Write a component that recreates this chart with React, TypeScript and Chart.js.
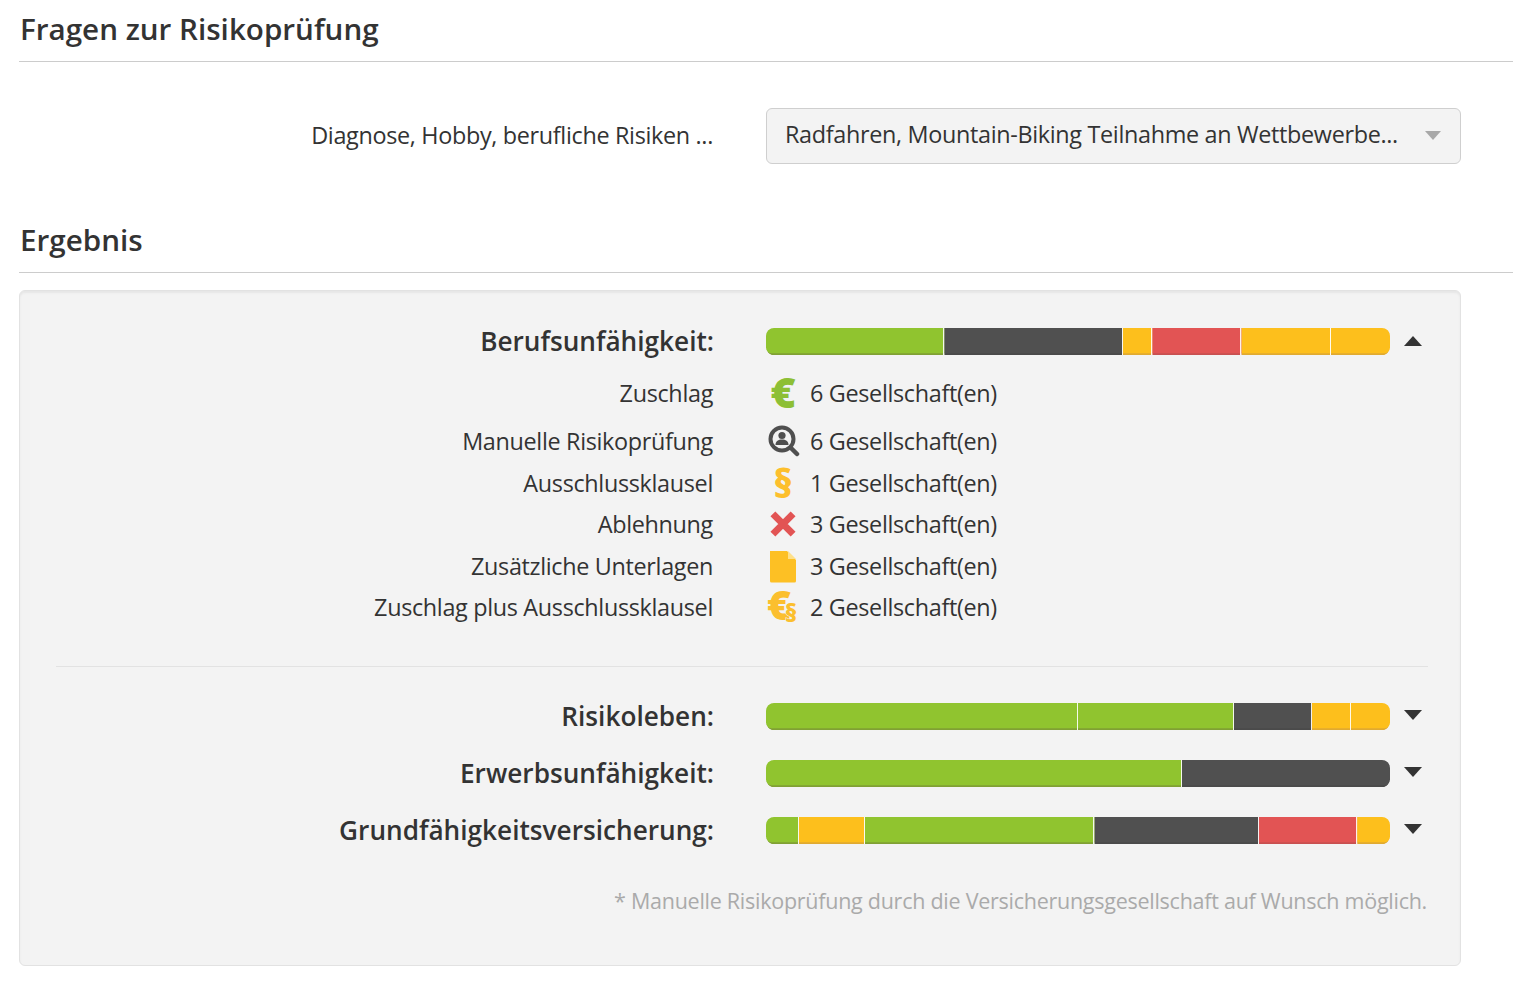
import { useEffect, useRef } from "react";
import { Chart, registerables } from "chart.js";

Chart.register(...registerables);

const GREEN = "#90c42f";
const DARK = "#505050";
const YELLOW = "#fdbf1c";
const RED = "#e25454";
const TEXT = "#333333";

const shade: Record<string, string> = {
  [GREEN]: "#80a034",
  [DARK]: "#4a4a4a",
  [YELLOW]: "#e0aa30",
  [RED]: "#c85050",
};

const berufValues = [6, 6, 1, 3, 3, 2];
const berufColors = [GREEN, DARK, YELLOW, RED, YELLOW, YELLOW];
const risikoValues = [8, 4, 2, 1, 1];
const risikoColors = [GREEN, GREEN, DARK, YELLOW, YELLOW];
const erwerbValues = [2, 1];
const erwerbColors = [GREEN, DARK];
const grundValues = [1, 2, 7, 5, 3, 1];
const grundColors = [GREEN, YELLOW, GREEN, DARK, RED, YELLOW];

const detailLabels = [
  "Zuschlag",
  "Manuelle Risikoprüfung",
  "Ausschlussklausel",
  "Ablehnung",
  "Zusätzliche Unterlagen",
  "Zuschlag plus Ausschlussklausel",
];
const detailCounts = [6, 6, 1, 3, 3, 2];
const detailY = [393, 441, 483, 524, 566, 607];

// white hairline between the segments of a bar
const separators = {
  id: "separators",
  afterDatasetsDraw(chart: Chart) {
    const { ctx, chartArea } = chart;
    const last = chart.data.datasets.length - 1;
    ctx.save();
    ctx.fillStyle = "rgba(255,255,255,0.9)";
    chart.data.datasets.forEach((_, i) => {
      if (i === last) return;
      const bar = chart.getDatasetMeta(i).data[0] as unknown as { x: number };
      ctx.fillRect(Math.round(bar.x) - 1, chartArea.top, 1, chartArea.bottom - chartArea.top);
    });
    ctx.restore();
  },
};

const StackedBar = ({ top, values, colors }: { top: number; values: number[]; colors: string[] }) => {
  const chartRef = useRef<HTMLCanvasElement>(null);

  useEffect(() => {
    if (!chartRef.current) return;
    const last = values.length - 1;
    const chart = new Chart(chartRef.current, {
      type: "bar",
      data: {
        labels: [""],
        datasets: values.map((v, i) => ({
          data: [v],
          backgroundColor: colors[i],
          borderColor: shade[colors[i]],
          borderWidth: { top: 0, left: 0, right: 0, bottom: 2 },
          borderSkipped: false,
          barPercentage: 1,
          categoryPercentage: 1,
          borderRadius: {
            topLeft: i === 0 ? 8 : 0,
            bottomLeft: i === 0 ? 8 : 0,
            topRight: i === last ? 8 : 0,
            bottomRight: i === last ? 8 : 0,
          },
        })),
      },
      options: {
        indexAxis: "y",
        animation: false,
        responsive: false,
        layout: { padding: 0 },
        plugins: { legend: { display: false }, tooltip: { enabled: false } },
        scales: {
          x: { stacked: true, display: false, min: 0, max: values.reduce((a, b) => a + b, 0) },
          y: { stacked: true, display: false },
        },
      },
      plugins: [separators],
    });
    return () => chart.destroy();
  }, [values, colors]);

  return (
    <canvas
      ref={chartRef}
      width={624}
      height={27}
      style={{ position: "absolute", left: 766, top, width: 624, height: 27 }}
    />
  );
};

const Label = ({ y, right, left, size = 23.4, weight = 400, color = TEXT, spacing = -0.33, children }: any) => (
  <div
    style={{
      position: "absolute",
      top: y - 25,
      height: 50,
      lineHeight: "50px",
      left,
      right: right !== undefined ? 1513 - right : undefined,
      fontSize: size,
      fontWeight: weight,
      letterSpacing: spacing,
      color,
      whiteSpace: "nowrap",
    }}
  >
    {children}
  </div>
);

const Arrow = ({ y, up }: { y: number; up?: boolean }) => (
  <svg style={{ position: "absolute", left: 1403, top: y - 6 }} width={20} height={12}>
    <polygon points={up ? "10,1 19,11 1,11" : "1,1 19,1 10,11"} fill="#333" />
  </svg>
);

const icons = [
  <svg width={44} height={48} style={{ overflow: "visible" }}>
    <text x="22" y="39" textAnchor="middle" fontSize="43" fontWeight="800" fill="#8dbf35" fontFamily="Open Sans">€</text>
  </svg>,
  <svg viewBox="0 0 32 32" width={32} height={32} style={{ marginLeft: 2 }}>
    <circle cx="14" cy="14" r="11.5" fill="none" stroke="#4f4f4f" strokeWidth="4" />
    <line x1="23" y1="23" x2="29" y2="29" stroke="#4f4f4f" strokeWidth="4.5" strokeLinecap="round" />
    <circle cx="14" cy="10.5" r="3.6" fill="#4f4f4f" />
    <path d="M7.5 20c0-4 3-5.5 6.5-5.5s6.5 1.500 6.500 5.500z" fill="#4f4f4f" />
  </svg>,
  <svg width={44} height={48} style={{ overflow: "visible" }}>
    <text x="22" y="39" textAnchor="middle" fontSize="39" fontWeight="800" fill="#fdbf2c" fontFamily="Open Sans">§</text>
  </svg>,
  <svg viewBox="0 0 32 32" width={34} height={34}>
    <path d="M6.500 6.500L25.500 25.500M25.500 6.500L6.500 25.500" stroke="#e25454" strokeWidth="6.500" />
  </svg>,
  <svg viewBox="0 0 32 36" width={32} height={36}>
    <path d="M3 3h17l9 9v21a1.500 1.500 0 0 1-1.500 1.500h-23A1.500 1.500 0 0 1 3 33z" fill="#fdc024" />
    <path d="M21 3l8 8h-8z" fill="#fee08a" />
  </svg>,
  <svg width={44} height={48} style={{ overflow: "visible" }}>
    <text x="18" y="37" textAnchor="middle" fontSize="41" fontWeight="800" fill="#fbbf2e" fontFamily="Open Sans">€</text>
    <text x="30" y="39" textAnchor="middle" fontSize="25" fontWeight="800" fill="#fbbf2e" stroke="#f3f3f3" strokeWidth="1" paintOrder="stroke" fontFamily="Open Sans">§</text>
  </svg>,
];

const App = () => {
  return (
    <div
      style={{
        position: "absolute",
        left: 0,
        top: 0,
        width: 1513,
        height: 1004,
        overflow: "hidden",
        background: "#fff",
        fontFamily: "'Open Sans', sans-serif",
      }}
    >
      <Label y={29} left={20} size={29.6} weight={600} spacing={0}>Fragen zur Risikoprüfung</Label>
      <div style={{ position: "absolute", left: 19, right: 0, top: 61, height: 1, background: "#cccccc" }} />

      <Label y={135} right={713}>Diagnose, Hobby, berufliche Risiken ...</Label>
      <div
        style={{
          position: "absolute",
          left: 766,
          top: 108,
          width: 693,
          height: 54,
          background: "#f3f3f3",
          border: "1px solid #cfcfcf",
          borderRadius: 6,
        }}
      />
      <Label y={134} left={785}>Radfahren, Mountain-Biking Teilnahme an Wettbewerbe...</Label>
      <svg style={{ position: "absolute", left: 1425, top: 131 }} width={16} height={9}>
        <polygon points="0,0 16,0 8,9" fill="#a8a8a8" />
      </svg>

      <Label y={240} left={20} size={29.6} weight={600} spacing={0}>Ergebnis</Label>
      <div style={{ position: "absolute", left: 19, right: 0, top: 272, height: 1, background: "#cccccc" }} />

      <div
        style={{
          position: "absolute",
          left: 19,
          top: 290,
          width: 1440,
          height: 674,
          background: "#f3f3f3",
          border: "1px solid #e2e2e2",
          borderRadius: 6,
          boxShadow: "inset 0 2px 2px #e6e6e6",
        }}
      />

      <Label y={341} right={714} size={26.2} weight={600} spacing={0}>Berufsunfähigkeit:</Label>
      <StackedBar top={328} values={berufValues} colors={berufColors} />
      <Arrow y={341} up />

      {detailLabels.map((label, i) => (
        <div key={label}>
          <Label y={detailY[i]} right={713}>{label}</Label>
          <div
            style={{
              position: "absolute",
              left: 761,
              top: detailY[i] - 24,
              width: 44,
              height: 48,
              display: "flex",
              alignItems: "center",
              justifyContent: "center",
            }}
          >
            {icons[i]}
          </div>
          <Label y={detailY[i]} left={810}>{detailCounts[i]} Gesellschaft(en)</Label>
        </div>
      ))}

      <div style={{ position: "absolute", left: 56, width: 1372, top: 666, height: 1, background: "#e2e2e2" }} />

      <Label y={716} right={714} size={26.2} weight={600} spacing={0}>Risikoleben:</Label>
      <StackedBar top={703} values={risikoValues} colors={risikoColors} />
      <Arrow y={715} />

      <Label y={773} right={714} size={26.2} weight={600} spacing={0}>Erwerbsunfähigkeit:</Label>
      <StackedBar top={760} values={erwerbValues} colors={erwerbColors} />
      <Arrow y={772} />

      <Label y={830} right={714} size={26.2} weight={600} spacing={0}>Grundfähigkeitsversicherung:</Label>
      <StackedBar top={817} values={grundValues} colors={grundColors} />
      <Arrow y={829} />

      <Label y={901} right={1427} size={21.5} spacing={-0.26} color="#aaaaaa">
        * Manuelle Risikoprüfung durch die Versicherungsgesellschaft auf Wunsch möglich.
      </Label>
    </div>
  );
};

export default App;
